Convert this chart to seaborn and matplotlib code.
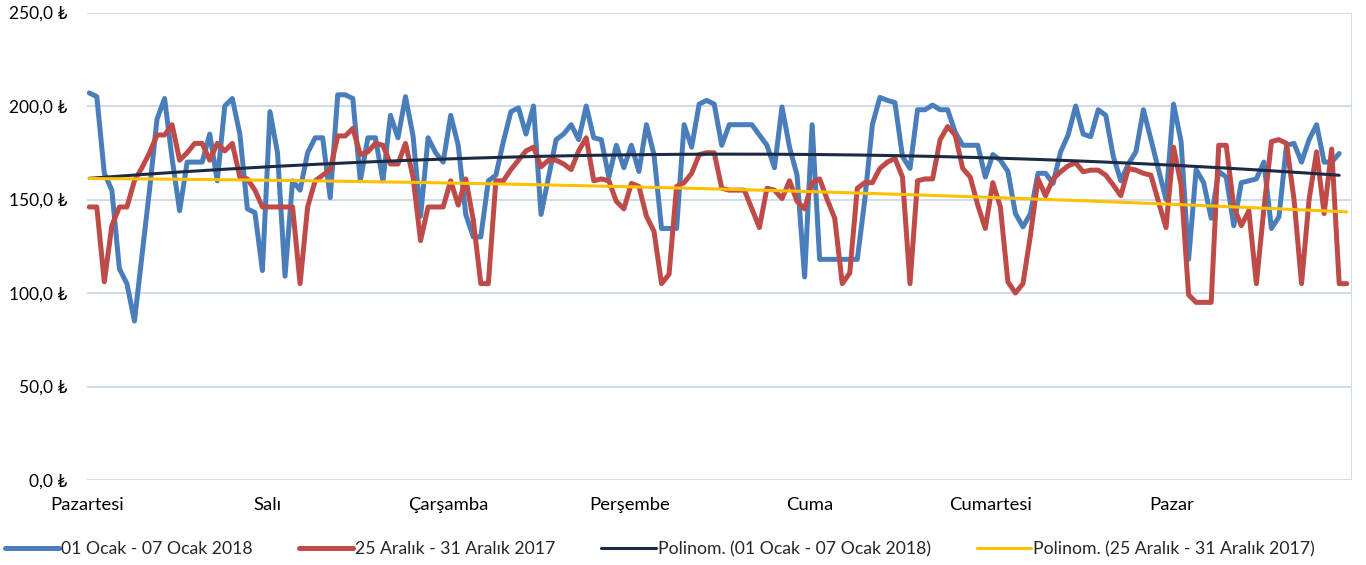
import numpy as np
import pandas as pd
import matplotlib
matplotlib.use("Agg")
import matplotlib.pyplot as plt
import seaborn as sns
from matplotlib.lines import Line2D

days = ["Pazartesi", "Salı", "Çarşamba", "Perşembe", "Cuma", "Cumartesi", "Pazar"]
name_blue = "01 Ocak - 07 Ocak 2018"
name_red = "25 Aralık - 31 Aralık 2017"
name_blue_tr = "Polinom. (01 Ocak - 07 Ocak 2018)"
name_red_tr = "Polinom. (25 Aralık - 31 Aralık 2017)"

blue_mon = [207, 205, 164, 155, 113, 105, 85, 120, 155, 193, 204, 172, 144, 170, 170, 170, 185, 160, 200, 204, 185, 145, 143, 112]
blue_tue = [197, 175, 109, 160, 155, 175, 183, 183, 151, 206, 206, 204, 160, 183, 183, 160, 195, 183, 205, 184, 141, 183, 175, 170]
blue_wed = [195, 179, 142, 130, 130, 160, 163, 181, 197, 199, 185, 200, 142, 162, 182, 185, 190, 182, 200, 183, 182, 162, 179, 167]
blue_thu = [179, 165, 190, 174, 134.5, 134.5, 134.5, 190, 178, 201, 203, 201, 179, 190, 190, 190, 190, 184.5, 179, 167, 199.5, 178, 163, 108.6]
blue_fri = [190, 118, 118, 118, 118, 118, 118, 150, 190, 204.6, 203, 201.8, 173, 166.6, 198, 198, 200.5, 198, 198, 186, 179, 179, 179, 162]
blue_sat = [174, 171, 165, 142.5, 135.4, 142.5, 164, 164, 158.6, 175.5, 184.5, 200, 185, 183.6, 198, 195, 173, 160, 169, 175.5, 198, 182, 166, 150]
blue_sun = [201, 181, 118, 166, 159, 140, 165, 162, 136, 159, 160, 161, 170, 134.5, 140.7, 179, 180, 170, 182, 190, 170, 170, 174.6]

red_mon = [146, 146, 106, 136, 146, 146, 160, 167, 175, 184.5, 184.5, 190, 171, 175, 180, 180, 171, 180, 176, 180, 162, 161, 155, 146]
red_tue = [146, 146, 146, 146, 105, 146, 160, 163, 166, 184, 184, 188, 174, 175.5, 180, 179, 169, 169, 180, 162, 128, 146, 146, 146]
red_wed = [160, 147, 161, 139, 105, 105, 160, 160, 166, 171, 176, 178, 167.5, 171, 171, 169, 166, 176, 183, 160, 161, 160, 149, 145]
red_thu = [158.6, 157, 141, 133, 105, 110, 157, 159, 164, 174, 175, 175, 156, 155, 155, 155, 145, 135, 156, 155, 150.5, 160, 149, 145]
red_fri = [159, 161, 150, 140, 105, 110.7, 156, 159, 159, 166.6, 170, 172, 162, 105, 160, 161, 161, 182, 189, 184.5, 166.6, 162, 147, 134.5]
red_sat = [159, 146, 106, 100, 105, 131, 161, 152, 161, 164.8, 168, 169.6, 164.8, 165.7, 165.7, 163, 157.7, 152, 166.6, 165.7, 164, 163, 148.8, 135]
red_sun = [178, 158, 99, 95, 95, 95, 179, 179, 146, 136, 144, 105, 145, 181, 182, 180, 150, 105, 150, 175.5, 142.5, 177, 105, 105]

blue = blue_mon + blue_tue + blue_wed + blue_thu + blue_fri + blue_sat + blue_sun
red = red_mon + red_tue + red_wed + red_thu + red_fri + red_sat + red_sun

c_blue = "#4a7ebb"
c_red = "#be4b48"
c_dark = "#1c2a44"
c_yellow = "#ffc000"
grid_c = "#ccd8ea"

sns.set_theme(style="white")
plt.rcParams["font.family"] = ["Lato", "DejaVu Sans"]

hb = np.arange(len(blue))
hr = np.arange(len(red))
tb = np.polyval(np.polyfit(hb, blue, 2), hb)
tr = np.polyval(np.polyfit(hr, red, 2), hr)

df = pd.concat([
    pd.DataFrame({"saat": hb, "deger": blue, "seri": name_blue}),
    pd.DataFrame({"saat": hr, "deger": red, "seri": name_red}),
])
dft = pd.concat([
    pd.DataFrame({"saat": hb, "deger": tb, "seri": name_blue_tr}),
    pd.DataFrame({"saat": hr, "deger": tr, "seri": name_red_tr}),
])

fig = plt.figure(figsize=(13.66, 5.65), dpi=100)
ax = fig.add_axes([87 / 1366, 1 - 480 / 565, (1352 - 87) / 1366, (480 - 12.5) / 565])

sns.lineplot(data=df, x="saat", y="deger", hue="seri",
             palette={name_blue: c_blue, name_red: c_red},
             linewidth=3.6, ax=ax, legend=False, sort=False)
sns.lineplot(data=dft, x="saat", y="deger", hue="seri",
             palette={name_blue_tr: c_dark, name_red_tr: c_yellow},
             linewidth=2.2, ax=ax, legend=False, sort=False)
for l in ax.lines:
    l.set_solid_joinstyle("round")
    l.set_solid_capstyle("round")

off = 0.3
ax.set_xlim(-off, 168 - off)
ax.set_ylim(0, 250)
ax.set_xticks(np.arange(0, 168, 24) - off)
ax.set_xticklabels(days)
ax.set_xticks(np.arange(0, 169, 24) - off, minor=True)
ax.set_yticks(np.arange(0, 251, 50))
ax.set_yticklabels([f"{v:.1f}".replace(".", ",") + " ₺" for v in np.arange(0, 251, 50)])
ax.grid(True, which="major", axis="y", color=grid_c, linewidth=1.3)
ax.grid(True, which="minor", axis="x", color=grid_c, linewidth=1.3)
ax.set_axisbelow(True)
for s in ax.spines.values():
    s.set_visible(False)
ax.tick_params(axis="both", which="both", length=0, colors="#000000")
ax.tick_params(axis="y", pad=14, labelsize=12.5)
ax.tick_params(axis="x", pad=12, labelsize=13.3)
ax.set_xlabel("")
ax.set_ylabel("")

handles = [Line2D([], [], color=c_blue, lw=3.6),
           Line2D([], [], color=c_red, lw=3.6),
           Line2D([], [], color=c_dark, lw=2.2),
           Line2D([], [], color=c_yellow, lw=2.2)]
labels = [name_blue, name_red, name_blue_tr, name_red_tr]
fig.legend(handles, labels, loc="lower center", bbox_to_anchor=(0.483, -0.014), ncol=4,
           frameon=False, fontsize=12.7, handlelength=3.1, handletextpad=0.1,
           columnspacing=2.6)

fig.savefig("out.png", dpi=100)
